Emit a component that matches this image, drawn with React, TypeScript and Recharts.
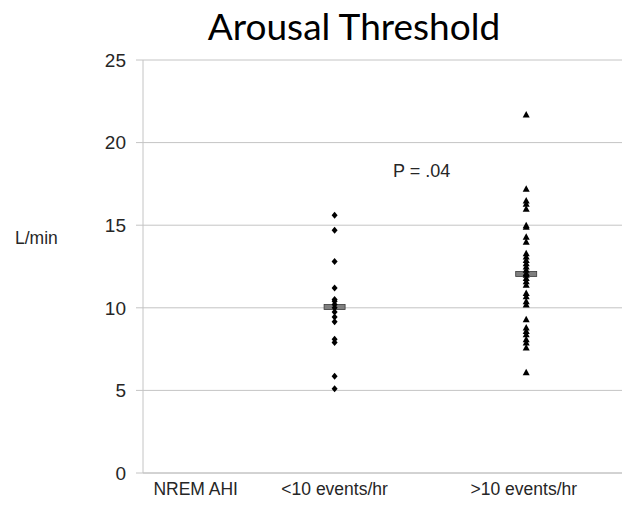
import { CartesianGrid, Scatter, ScatterChart, XAxis, YAxis } from "recharts";

const categoryLabels = ["NREM AHI", "<10 events/hr", ">10 events/hr"];
const categoryX = [1.1, 4, 7.95];
const groupX = [4, 8];

// arousal threshold (L/min) per subject
const lowAhiValues = [15.6, 14.7, 12.8, 11.2, 10.5, 10.4, 10.2, 10.0, 9.75, 9.45, 9.15, 8.1, 7.9, 5.85, 5.1];
const highAhiValues = [
  21.7, 17.2, 16.5, 16.3, 16.0, 15.0, 14.9, 14.3, 14.0, 13.3, 13.1, 12.9, 12.7, 12.5, 12.3, 12.1,
  12.0, 11.8, 11.6, 11.4, 10.9, 10.7, 10.4, 10.2, 9.3, 8.8, 8.6, 8.4, 8.1, 7.9, 7.6, 6.1,
];
const medianValues = [10.05, 12.05];
const yTicks = [0, 5, 10, 15, 20, 25];

const lowData = lowAhiValues.map((v) => ({ x: groupX[0], y: v }));
const highData = highAhiValues.map((v) => ({ x: groupX[1], y: v }));
const medianData = medianValues.map((v, i) => ({ x: groupX[i], y: v }));

const GRID = "#c4c4c4";
const TEXT = "#262626";
const FONT = "'Liberation Sans', Arial, sans-serif";

const Diamond = (props: any) => {
  const { cx, cy } = props;
  return <polygon points={`${cx},${cy - 3.5} ${cx + 3},${cy} ${cx},${cy + 3.5} ${cx - 3},${cy}`} fill="#000" />;
};

const Triangle = (props: any) => {
  const { cx, cy } = props;
  return <polygon points={`${cx},${cy - 3.5} ${cx + 3.5},${cy + 3} ${cx - 3.5},${cy + 3}`} fill="#000" />;
};

const MedianBar = (props: any) => {
  const { cx, cy } = props;
  return <rect x={cx - 10.5} y={cy - 2.5} width={21} height={5} fill="#7f7f7f" stroke="#3a3a3a" strokeWidth={0.8} />;
};

export default function App() {
  return (
    <div style={{ position: "absolute", left: 0, top: 0, background: "#fff" }}>
      <ScatterChart width={628} height={510} margin={{ top: 60, right: 6, bottom: 0, left: 0 }}>
        <CartesianGrid horizontal vertical={false} stroke={GRID} />
        <XAxis
          type="number"
          dataKey="x"
          domain={[0, 10]}
          ticks={categoryX}
          interval={0}
          tickFormatter={(_v: number, i: number) => categoryLabels[i]}
          tickLine={false}
          axisLine={{ stroke: GRID }}
          height={37}
          tickMargin={4}
          tick={{ fill: TEXT, fontSize: 17.5, fontFamily: FONT }}
        />
        <YAxis
          type="number"
          dataKey="y"
          domain={[0, 25]}
          ticks={yTicks}
          interval={0}
          width={143}
          tickSize={7}
          tickMargin={10}
          tickLine={{ stroke: GRID }}
          axisLine={{ stroke: GRID }}
          tick={{ fill: TEXT, fontSize: 19, fontFamily: FONT }}
        />
        <Scatter data={medianData} shape={MedianBar} isAnimationActive={false} />
        <Scatter data={lowData} shape={Diamond} isAnimationActive={false} />
        <Scatter data={highData} shape={Triangle} isAnimationActive={false} />
        <text x={354} y={40} textAnchor="middle" fontFamily="Lato, sans-serif" fontSize={37} fill="#000">
          Arousal Threshold
        </text>
        <text x={15} y={244} fontFamily={FONT} fontSize={17.5} fill={TEXT}>
          L/min
        </text>
        <text x={393} y={176.5} fontFamily={FONT} fontSize={18} fill={TEXT}>
          P = .04
        </text>
      </ScatterChart>
    </div>
  );
}
